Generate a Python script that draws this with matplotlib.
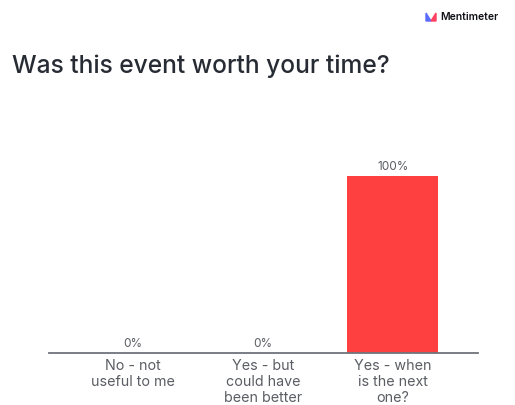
import matplotlib.pyplot as plt
from matplotlib.patches import Polygon

# Data
categories = ["No - not\nuseful to me", "Yes - but\ncould have\nbeen better", "Yes - when\nis the next\none?"]
values = [0, 0, 100]
value_labels = ["0%", "0%", "100%"]

bar_color = "#ff4040"
text_dark = "#272b33"
text_gray = "#5a5d63"

plt.rcParams["font.family"] = ["Inter", "DejaVu Sans"]

fig = plt.figure(figsize=[5.15, 4.05], dpi=100)
fig.patch.set_facecolor("white")

# Title and logo
fig.text(12 / 515, 1 - 66 / 405, "Was this event worth your time?", fontsize=17.7,
         color=text_dark, va="center", ha="left", fontweight="medium")
fig.text(440 / 515, 1 - 17 / 405, "Mentimeter", fontsize=7.5, color="#101216",
         va="center", ha="left", fontweight="semibold")
# small logo mark
fig.patches.append(Polygon([[426 / 515, 1 - 21 / 405], [426 / 515, 1 - 13 / 405], [431 / 515, 1 - 21 / 405]],
                           closed=True, transform=fig.transFigure, color="#5a6bff"))
fig.patches.append(Polygon([[431 / 515, 1 - 21 / 405], [436 / 515, 1 - 13 / 405], [436 / 515, 1 - 21 / 405]],
                           closed=True, transform=fig.transFigure, color="#ff4060"))

ax = fig.add_axes([49 / 515, 1 - 353 / 405, (478 - 49) / 515, (353 - 176) / 405])
x = range(len(categories))
ax.bar(x, values, width=0.7, color=bar_color)
ax.set_xlim(-0.646, 2.654)
ax.set_ylim(0, 100)

for i, (v, lab) in enumerate(zip(values, value_labels)):
    ax.annotate(lab, (i, v), xytext=(0, 2.5), textcoords="offset points", ha="center",
                va="bottom", fontsize=8.5, color=text_gray, annotation_clip=False)

ax.set_xticks(list(x))
ax.set_xticklabels(categories, fontsize=10.3, color=text_gray, linespacing=1.18)
ax.tick_params(axis="x", length=0, pad=4)
ax.set_yticks([])
for s in ["top", "right", "left"]:
    ax.spines[s].set_visible(False)
ax.spines["bottom"].set_color("#70737a")
ax.spines["bottom"].set_linewidth(1.3)
ax.patch.set_alpha(0)

plt.savefig("out.png", dpi=100)
